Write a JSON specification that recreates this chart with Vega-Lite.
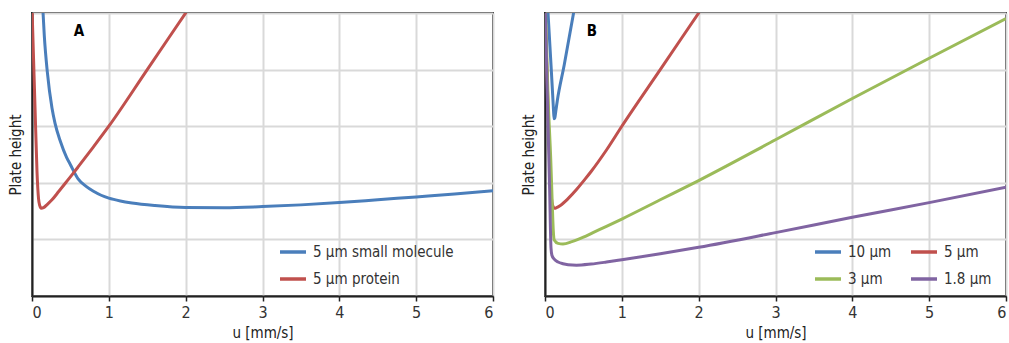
{
  "$schema": "https://vega.github.io/schema/vega-lite/v6.json",
  "padding": {"left": 7, "top": 12, "right": 0, "bottom": 0},
  "spacing": 25,
  "resolve": {"scale": {"color": "independent"}, "legend": {"color": "independent"}},
  "datasets": {
    "a": [
      {"s": "5 µm small molecule", "u": 0.14, "h": 5.1},
      {"s": "5 µm small molecule", "u": 0.16, "h": 4.6},
      {"s": "5 µm small molecule", "u": 0.2, "h": 3.95},
      {"s": "5 µm small molecule", "u": 0.26, "h": 3.32},
      {"s": "5 µm small molecule", "u": 0.3, "h": 3.05},
      {"s": "5 µm small molecule", "u": 0.37, "h": 2.73},
      {"s": "5 µm small molecule", "u": 0.45, "h": 2.45},
      {"s": "5 µm small molecule", "u": 0.5, "h": 2.32},
      {"s": "5 µm small molecule", "u": 0.6, "h": 2.07},
      {"s": "5 µm small molecule", "u": 0.7, "h": 1.94},
      {"s": "5 µm small molecule", "u": 0.8, "h": 1.85},
      {"s": "5 µm small molecule", "u": 0.9, "h": 1.78},
      {"s": "5 µm small molecule", "u": 1.0, "h": 1.73},
      {"s": "5 µm small molecule", "u": 1.15, "h": 1.68},
      {"s": "5 µm small molecule", "u": 1.3, "h": 1.645},
      {"s": "5 µm small molecule", "u": 1.6, "h": 1.6},
      {"s": "5 µm small molecule", "u": 2.0, "h": 1.565},
      {"s": "5 µm small molecule", "u": 2.5, "h": 1.56},
      {"s": "5 µm small molecule", "u": 3.0, "h": 1.58},
      {"s": "5 µm small molecule", "u": 3.5, "h": 1.61},
      {"s": "5 µm small molecule", "u": 4.0, "h": 1.65},
      {"s": "5 µm small molecule", "u": 4.5, "h": 1.7},
      {"s": "5 µm small molecule", "u": 5.0, "h": 1.75},
      {"s": "5 µm small molecule", "u": 5.5, "h": 1.8},
      {"s": "5 µm small molecule", "u": 6.0, "h": 1.86},
      {"s": "5 µm protein", "u": 0.0, "h": 5.1},
      {"s": "5 µm protein", "u": 0.02, "h": 4.2},
      {"s": "5 µm protein", "u": 0.04, "h": 3.3},
      {"s": "5 µm protein", "u": 0.065, "h": 2.2},
      {"s": "5 µm protein", "u": 0.085, "h": 1.72},
      {"s": "5 µm protein", "u": 0.1, "h": 1.6},
      {"s": "5 µm protein", "u": 0.12, "h": 1.55},
      {"s": "5 µm protein", "u": 0.15, "h": 1.56},
      {"s": "5 µm protein", "u": 0.2, "h": 1.62},
      {"s": "5 µm protein", "u": 0.26, "h": 1.7},
      {"s": "5 µm protein", "u": 0.35, "h": 1.85},
      {"s": "5 µm protein", "u": 0.45, "h": 2.02},
      {"s": "5 µm protein", "u": 0.52, "h": 2.14},
      {"s": "5 µm protein", "u": 0.6, "h": 2.28},
      {"s": "5 µm protein", "u": 0.78, "h": 2.6},
      {"s": "5 µm protein", "u": 1.0, "h": 3.0},
      {"s": "5 µm protein", "u": 1.5, "h": 4.0},
      {"s": "5 µm protein", "u": 2.05, "h": 5.1}
    ],
    "b": [
      {"s": "10 µm", "u": 0.035, "h": 5.1},
      {"s": "10 µm", "u": 0.078, "h": 4.09},
      {"s": "10 µm", "u": 0.1, "h": 3.55},
      {"s": "10 µm", "u": 0.11, "h": 3.3},
      {"s": "10 µm", "u": 0.118, "h": 3.13},
      {"s": "10 µm", "u": 0.128, "h": 3.15},
      {"s": "10 µm", "u": 0.14, "h": 3.26},
      {"s": "10 µm", "u": 0.16, "h": 3.45},
      {"s": "10 µm", "u": 0.25, "h": 4.08},
      {"s": "10 µm", "u": 0.385, "h": 5.1},
      {"s": "5 µm", "u": 0.0, "h": 5.1},
      {"s": "5 µm", "u": 0.02, "h": 4.2},
      {"s": "5 µm", "u": 0.04, "h": 3.3},
      {"s": "5 µm", "u": 0.065, "h": 2.2},
      {"s": "5 µm", "u": 0.085, "h": 1.72},
      {"s": "5 µm", "u": 0.1, "h": 1.6},
      {"s": "5 µm", "u": 0.125, "h": 1.55},
      {"s": "5 µm", "u": 0.15, "h": 1.56},
      {"s": "5 µm", "u": 0.2, "h": 1.6},
      {"s": "5 µm", "u": 0.3, "h": 1.72},
      {"s": "5 µm", "u": 0.41, "h": 1.88},
      {"s": "5 µm", "u": 0.5, "h": 2.03},
      {"s": "5 µm", "u": 0.6, "h": 2.2},
      {"s": "5 µm", "u": 0.8, "h": 2.58},
      {"s": "5 µm", "u": 1.0, "h": 3.0},
      {"s": "5 µm", "u": 1.5, "h": 4.0},
      {"s": "5 µm", "u": 2.05, "h": 5.1},
      {"s": "3 µm", "u": 0.005, "h": 5.1},
      {"s": "3 µm", "u": 0.04, "h": 3.5},
      {"s": "3 µm", "u": 0.075, "h": 2.4},
      {"s": "3 µm", "u": 0.095, "h": 1.6},
      {"s": "3 µm", "u": 0.108, "h": 1.15},
      {"s": "3 µm", "u": 0.12, "h": 0.99},
      {"s": "3 µm", "u": 0.17, "h": 0.93},
      {"s": "3 µm", "u": 0.234, "h": 0.92},
      {"s": "3 µm", "u": 0.35, "h": 0.96},
      {"s": "3 µm", "u": 0.5, "h": 1.04},
      {"s": "3 µm", "u": 0.625, "h": 1.12},
      {"s": "3 µm", "u": 0.8, "h": 1.23},
      {"s": "3 µm", "u": 1.0, "h": 1.36},
      {"s": "3 µm", "u": 1.5, "h": 1.7},
      {"s": "3 µm", "u": 2.0, "h": 2.04},
      {"s": "3 µm", "u": 3.0, "h": 2.76},
      {"s": "3 µm", "u": 4.0, "h": 3.49},
      {"s": "3 µm", "u": 5.0, "h": 4.2},
      {"s": "3 µm", "u": 6.0, "h": 4.9},
      {"s": "1.8 µm", "u": 0.003, "h": 5.1},
      {"s": "1.8 µm", "u": 0.03, "h": 3.55},
      {"s": "1.8 µm", "u": 0.06, "h": 1.9},
      {"s": "1.8 µm", "u": 0.078, "h": 0.85},
      {"s": "1.8 µm", "u": 0.09, "h": 0.72},
      {"s": "1.8 µm", "u": 0.12, "h": 0.65},
      {"s": "1.8 µm", "u": 0.17, "h": 0.6},
      {"s": "1.8 µm", "u": 0.234, "h": 0.57},
      {"s": "1.8 µm", "u": 0.3, "h": 0.553},
      {"s": "1.8 µm", "u": 0.41, "h": 0.545},
      {"s": "1.8 µm", "u": 0.6, "h": 0.565},
      {"s": "1.8 µm", "u": 0.8, "h": 0.6},
      {"s": "1.8 µm", "u": 1.0, "h": 0.64},
      {"s": "1.8 µm", "u": 1.5, "h": 0.745},
      {"s": "1.8 µm", "u": 2.0, "h": 0.86},
      {"s": "1.8 µm", "u": 3.0, "h": 1.12},
      {"s": "1.8 µm", "u": 4.0, "h": 1.39},
      {"s": "1.8 µm", "u": 5.0, "h": 1.65},
      {"s": "1.8 µm", "u": 6.0, "h": 1.92}
    ],
    "labA": [{"u": 0.61, "h": 4.68, "t": "A"}],
    "labB": [{"u": 0.61, "h": 4.68, "t": "B"}]
  },
  "config": {
    "font": "DejaVu Sans Condensed, Liberation Sans, sans-serif",
    "view": {"stroke": "#222222", "strokeWidth": 2},
    "axis": {
      "grid": true,
      "gridColor": "#d9d9d9",
      "gridWidth": 2,
      "domainColor": "#222222",
      "domainWidth": 2,
      "tickColor": "#222222",
      "tickWidth": 1.5,
      "tickSize": 5,
      "labelFontSize": 16,
      "labelColor": "#333333",
      "labelPadding": 3,
      "titleFontSize": 15,
      "titleFontWeight": "normal",
      "titleColor": "#222222"
    },
    "legend": {
      "labelFontSize": 15,
      "labelColor": "#333333",
      "symbolType": "stroke",
      "symbolStrokeWidth": 3.5,
      "symbolSize": 676,
      "labelOffset": 5,
      "padding": 0,
      "rowPadding": 4,
      "title": null
    }
  },
  "hconcat": [
    {
      "width": 461,
      "height": 283,
      "layer": [
        {
          "data": {"name": "a"},
          "mark": {"type": "line", "clip": true, "strokeWidth": 3, "interpolate": "monotone"},
          "encoding": {
            "x": {"field": "u", "type": "quantitative", "scale": {"domain": [0, 6], "nice": false},
                  "axis": {"title": "u [mm/s]", "values": [0, 1, 2, 3, 4, 5, 6], "format": "d", "titlePadding": 5}},
            "y": {"field": "h", "type": "quantitative", "scale": {"domain": [0, 5], "nice": false},
                  "axis": {"title": "Plate height", "labels": false, "ticks": false, "values": [0, 1, 2, 3, 4, 5], "titlePadding": 9}},
            "color": {"field": "s", "type": "nominal",
                      "scale": {"domain": ["5 µm small molecule", "5 µm protein"], "range": ["#4A7EBB", "#C0504D"]},
                      "legend": {"orient": "none", "legendX": 246, "legendY": 224}}
          }
        },
        {
          "data": {"name": "labA"},
          "mark": {"type": "text", "fontWeight": "bold", "fontSize": 15, "color": "#000000", "align": "center", "baseline": "middle"},
          "encoding": {
            "x": {"field": "u", "type": "quantitative"},
            "y": {"field": "h", "type": "quantitative"},
            "text": {"field": "t"}
          }
        }
      ]
    },
    {
      "width": 461,
      "height": 283,
      "layer": [
        {
          "data": {"name": "b"},
          "mark": {"type": "line", "clip": true, "strokeWidth": 3, "interpolate": "monotone"},
          "encoding": {
            "x": {"field": "u", "type": "quantitative", "scale": {"domain": [0, 6], "nice": false},
                  "axis": {"title": "u [mm/s]", "values": [0, 1, 2, 3, 4, 5, 6], "format": "d", "titlePadding": 5}},
            "y": {"field": "h", "type": "quantitative", "scale": {"domain": [0, 5], "nice": false},
                  "axis": {"title": "Plate height", "labels": false, "ticks": false, "values": [0, 1, 2, 3, 4, 5], "titlePadding": 9}},
            "color": {"field": "s", "type": "nominal",
                      "scale": {"domain": ["10 µm", "3 µm", "5 µm", "1.8 µm"], "range": ["#4A7EBB", "#9BBB59", "#C0504D", "#8064A2"]},
                      "legend": {"orient": "none", "legendX": 268, "legendY": 224, "columns": 2, "columnPadding": 12}}
          }
        },
        {
          "data": {"name": "labB"},
          "mark": {"type": "text", "fontWeight": "bold", "fontSize": 15, "color": "#000000", "align": "center", "baseline": "middle"},
          "encoding": {
            "x": {"field": "u", "type": "quantitative"},
            "y": {"field": "h", "type": "quantitative"},
            "text": {"field": "t"}
          }
        }
      ]
    }
  ]
}
